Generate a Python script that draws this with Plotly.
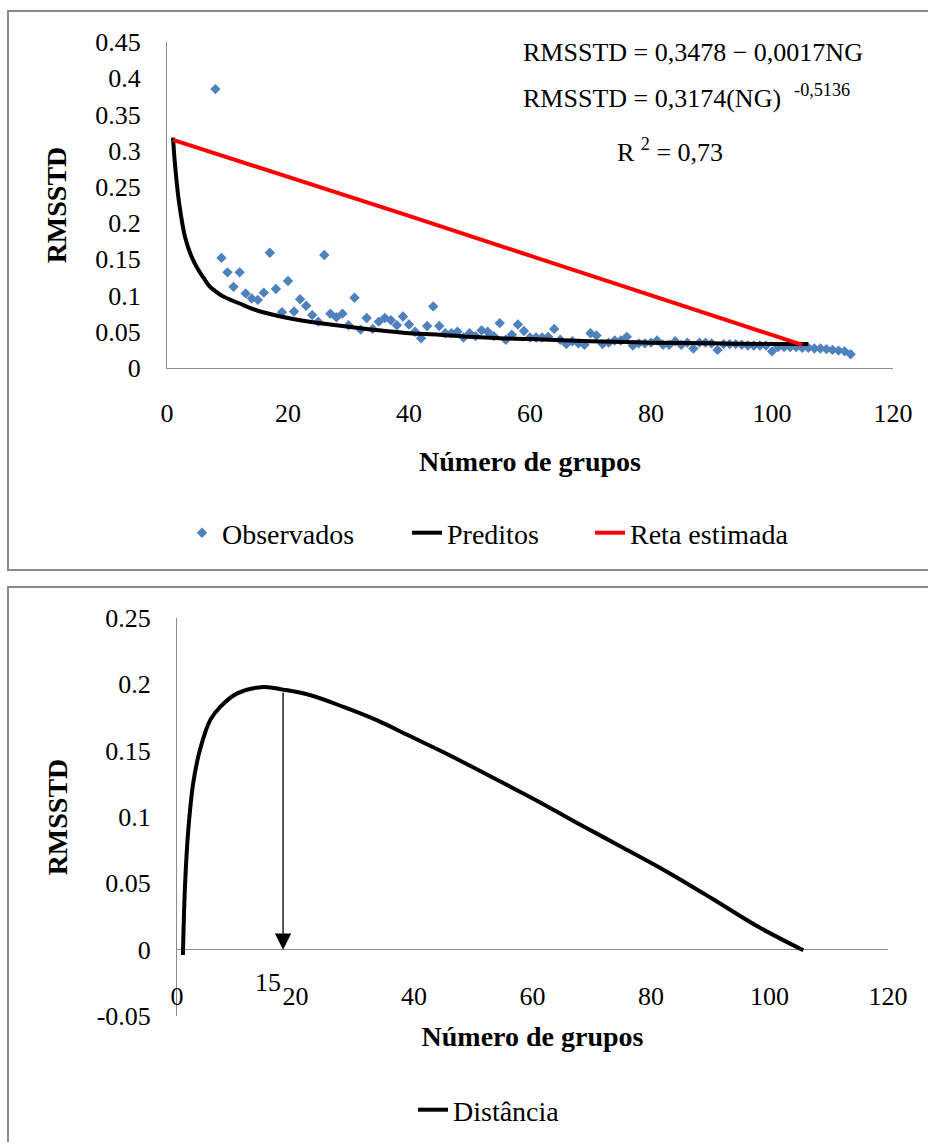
import plotly.graph_objects as go

# ---------------- data ----------------
obs_x = list(range(8, 114))
obs_y = [0.385, 0.152, 0.132, 0.112, 0.132, 0.103, 0.096, 0.094, 0.104, 0.159,
         0.109, 0.077, 0.120, 0.078, 0.095, 0.086, 0.073, 0.064, 0.156, 0.075,
         0.070, 0.075, 0.059, 0.097, 0.053, 0.069, 0.054, 0.064, 0.069, 0.066,
         0.059, 0.071, 0.060, 0.050, 0.041, 0.058, 0.085, 0.058, 0.048, 0.048,
         0.050, 0.042, 0.048, 0.044, 0.052, 0.050, 0.044, 0.062, 0.039, 0.046,
         0.060, 0.051, 0.042, 0.042, 0.042, 0.043, 0.054, 0.039, 0.033, 0.037,
         0.034, 0.032, 0.048, 0.045, 0.033, 0.035, 0.038, 0.038, 0.043, 0.031,
         0.034, 0.034, 0.035, 0.038, 0.032, 0.032, 0.037, 0.032, 0.035, 0.027,
         0.035, 0.035, 0.034, 0.025, 0.033, 0.033, 0.033, 0.032, 0.031, 0.031,
         0.031, 0.031, 0.023, 0.029, 0.029, 0.029, 0.029, 0.028, 0.028, 0.027,
         0.027, 0.026, 0.025, 0.024, 0.023, 0.019]

pred_x = [1, 1.3, 2, 3, 4, 5, 6, 7, 8, 9, 10, 12, 15, 20, 25, 30, 35, 40, 45,
          50, 55, 60, 70, 80, 90, 100, 106]
pred_y = [0.318, 0.283, 0.228, 0.180, 0.155, 0.138, 0.125, 0.113, 0.106, 0.100,
          0.096, 0.089, 0.079, 0.069, 0.062, 0.057, 0.052, 0.048, 0.046, 0.043,
          0.041, 0.040, 0.037, 0.035, 0.034, 0.033, 0.033]

reta_x = [1, 20, 40, 60, 85, 105]
reta_y = [0.315, 0.264, 0.210, 0.155, 0.086, 0.032]

dist_x = [1, 1.35, 1.9, 2.75, 3.9, 5.6, 7.3, 10.1, 14.6, 17.9, 22.4, 28.1, 33.7,
          39.3, 44.9, 50.6, 56.2, 61.3, 66.9, 74.8, 82.6, 90.5, 97.8, 105.7]
dist_y = [-0.004, 0.048, 0.090, 0.126, 0.151, 0.173, 0.183, 0.193, 0.198, 0.196,
          0.192, 0.183, 0.173, 0.161, 0.149, 0.136, 0.123, 0.111, 0.097, 0.078,
          0.059, 0.038, 0.018, -0.0005]

x_ticks = [0, 20, 40, 60, 80, 100, 120]
y1_ticks = [0, 0.05, 0.1, 0.15, 0.2, 0.25, 0.3, 0.35, 0.4, 0.45]
y2_ticks = [-0.05, 0, 0.05, 0.1, 0.15, 0.2, 0.25]
y2_ticktext = ["-0.05", "0", "0.05", "0.1", "0.15", "0.2", "0.25"]

arrow_x = 17.9
arrow_top = 0.195
arrow_label = "15"

eq1 = "RMSSTD = 0,3478 − 0,0017NG"
eq2 = "RMSSTD = 0,3174(NG)  <sup>-0,5136</sup>"
eq3 = "R <sup>2</sup> = 0,73"

# ---------------- figure ----------------
W, H = 928, 1142
FONT = "Liberation Serif, Times New Roman, serif"
AX = "#8c8c8c"

def px_x(p):
    return p / W

def px_y(p):
    return 1 - p / H

fig = go.Figure()

fig.add_trace(go.Scatter(x=obs_x, y=obs_y, mode="markers", name="Observados",
                         marker=dict(symbol="diamond", size=8, color="#4F81BD"),
                         xaxis="x", yaxis="y", legend="legend"))
fig.add_trace(go.Scatter(x=pred_x, y=pred_y, mode="lines", name="Preditos",
                         line=dict(color="black", width=4, shape="spline"),
                         xaxis="x", yaxis="y", legend="legend3"))
fig.add_trace(go.Scatter(x=reta_x, y=reta_y, mode="lines", name="Reta estimada",
                         line=dict(color="#FF0000", width=4),
                         xaxis="x", yaxis="y", legend="legend4"))
fig.add_trace(go.Scatter(x=dist_x, y=dist_y, mode="lines", name="Distância",
                         line=dict(color="black", width=4, shape="spline",
                                   smoothing=1.0),
                         xaxis="x2", yaxis="y2", legend="legend2"))

tickfont = dict(family=FONT, size=26, color="black")
titlefont = dict(family=FONT, size=28, color="black", weight="bold")
legfont = dict(family=FONT, size=28, color="black")


def leg(text_left_px, y_px):
    return dict(orientation="h", x=px_x(text_left_px - 40), xanchor="left",
                y=px_y(y_px), yanchor="middle", bgcolor="rgba(0,0,0,0)",
                font=legfont, itemwidth=30, borderwidth=0)


fig.update_layout(
    width=W, height=H,
    margin=dict(l=0, r=0, t=0, b=0),
    paper_bgcolor="white", plot_bgcolor="white",
    font=dict(family=FONT, color="black"),
    xaxis=dict(domain=[px_x(167), px_x(893)], range=[0, 120], tickvals=x_ticks,
               showline=True, linecolor=AX, linewidth=1, showgrid=False,
               zeroline=False, ticks="", tickfont=tickfont, ticklabelstandoff=22,
               title=dict(text="Número de grupos", font=titlefont, standoff=24),
               anchor="y", automargin=False),
    yaxis=dict(domain=[px_y(368), px_y(42)], range=[0, 0.45], tickvals=y1_ticks,
               showline=True, linecolor=AX, linewidth=1, showgrid=False,
               zeroline=False, ticks="", tickfont=tickfont, ticklabelstandoff=20,
               title=dict(text="RMSSTD", font=titlefont, standoff=20),
               anchor="x", automargin=False),
    xaxis2=dict(domain=[px_x(177), px_x(888)], range=[0, 120], tickvals=x_ticks,
                showline=False, showgrid=False, zeroline=False, ticks="",
                tickfont=tickfont, anchor="free", position=px_y(978),
                title=dict(text="Número de grupos", font=titlefont, standoff=16),
                automargin=False),
    yaxis2=dict(domain=[px_y(1016), px_y(618)], range=[-0.05, 0.25],
                tickvals=y2_ticks, ticktext=y2_ticktext,
                showline=True, linecolor=AX, linewidth=1, showgrid=False,
                zeroline=True, zerolinecolor=AX, zerolinewidth=1, ticks="",
                tickfont=tickfont, ticklabelstandoff=20,
                title=dict(text="RMSSTD", font=titlefont, standoff=20),
                anchor="x2", automargin=False),
    legend=leg(222, 533),
    legend3=leg(447, 533),
    legend4=leg(630, 533),
    legend2=leg(453, 1110),
    showlegend=True,
)

# panel borders
fig.add_shape(type="rect", xref="paper", yref="paper",
              x0=px_x(8), x1=px_x(960), y0=px_y(570), y1=px_y(11),
              line=dict(color="#8a8a8a", width=2), layer="below")
fig.add_shape(type="rect", xref="paper", yref="paper",
              x0=px_x(8), x1=px_x(960), y0=px_y(1170), y1=px_y(587),
              line=dict(color="#8a8a8a", width=2), layer="below")

# equations
eqfont = dict(family=FONT, size=26, color="black")
fig.add_annotation(text=eq1, xref="paper", yref="paper", x=px_x(521), y=px_y(52),
                   xanchor="left", yanchor="middle", showarrow=False, font=eqfont)
fig.add_annotation(text=eq2, xref="paper", yref="paper", x=px_x(521), y=px_y(96),
                   xanchor="left", yanchor="middle", showarrow=False, font=eqfont)
fig.add_annotation(text=eq3, xref="paper", yref="paper", x=px_x(615), y=px_y(150),
                   xanchor="left", yanchor="middle", showarrow=False, font=eqfont)

# arrow and label
fig.add_annotation(x=arrow_x, y=0, ax=arrow_x, ay=arrow_top, xref="x2", yref="y2",
                   axref="x2", ayref="y2", text="", showarrow=True, arrowhead=2,
                   arrowsize=2.5, arrowwidth=1.3, arrowcolor="black", standoff=0)
fig.add_annotation(text=arrow_label, x=15.4, y=-0.025, xref="x2", yref="y2",
                   showarrow=False, font=tickfont, xanchor="center", yanchor="middle")

fig.write_html("out.html", config={"displayModeBar": False},
               post_script="document.body.style.margin='0px';document.body.style.overflow='hidden';")
